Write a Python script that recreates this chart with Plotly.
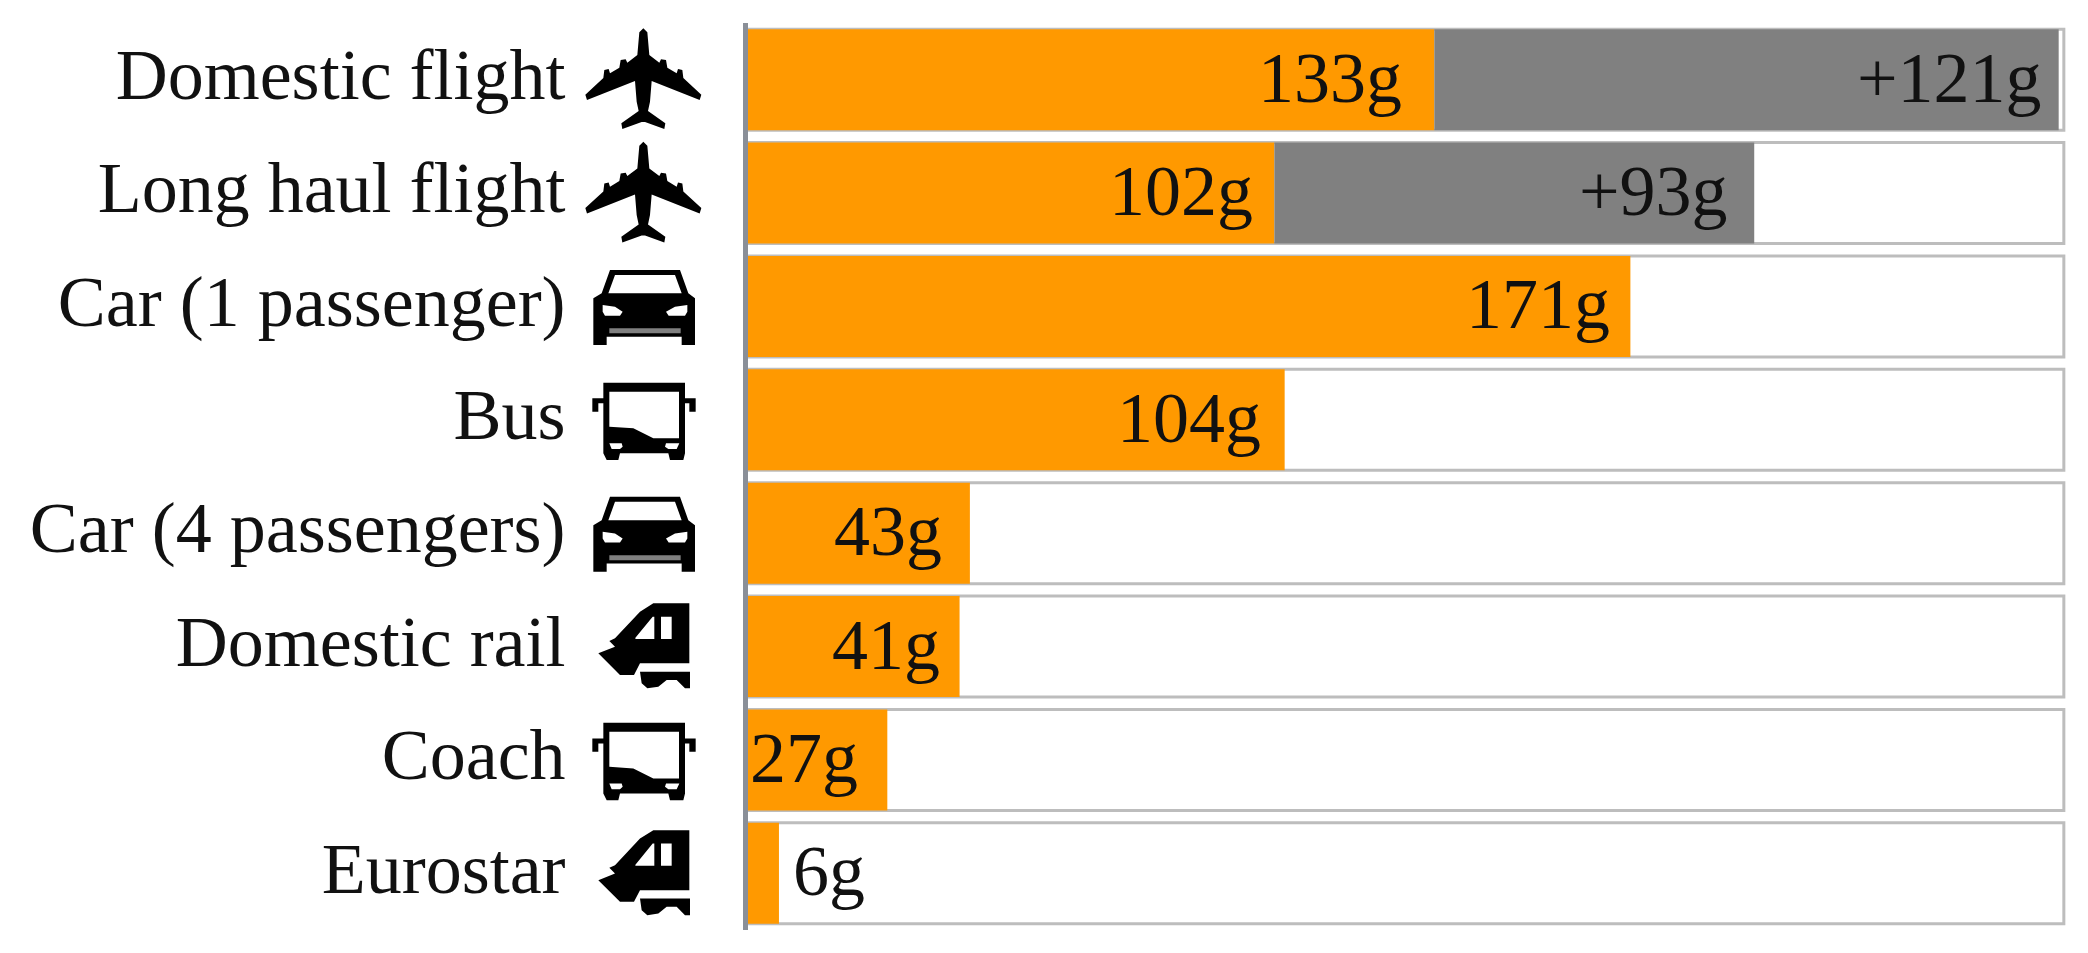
import plotly.graph_objects as go

categories = ["Domestic flight", "Long haul flight", "Car (1 passenger)", "Bus",
              "Car (4 passengers)", "Domestic rail", "Coach", "Eurostar"]
direct_g = [133, 102, 171, 104, 43, 41, 27, 6]
extra_g = [121, 93, 0, 0, 0, 0, 0, 0]
track_total = [255] * 8
direct_labels = ["133g", "102g", "171g", "104g", "43g", "41g", "27g", "6g"]
extra_labels = ["+121g", "+93g", "", "", "", "", "", ""]
icon_kinds = ["plane", "plane", "car", "bus", "car", "train", "bus", "train"]

W, H = 2088, 953
L, R, T, B = 748, 19, 23, 23
PW, PH = W - L - R, H - T - B
PITCH = PH / 8

ORANGE = "#FF9900"
GREY = "#808080"
TRACK = "#BDBDBD"
AXIS = "#8A8F98"
FONT = "Liberation Serif"
LABEL_SIZE = 72

fig = go.Figure()
fig.add_bar(y=categories, x=track_total, orientation="h",
            marker=dict(color="white", line=dict(color=TRACK, width=3)), hoverinfo="skip")
fig.add_bar(y=categories, x=direct_g, orientation="h",
            marker=dict(color=ORANGE, line=dict(width=0)))
fig.add_bar(y=categories, x=extra_g, base=direct_g, orientation="h",
            marker=dict(color=GREY, line=dict(width=0)))

annotations = []
direct_pad = [-30, -19, -18, -22, -26, -18, -27, 12]
for cat, val, txt, pad in zip(categories, direct_g, direct_labels, direct_pad):
    annotations.append(dict(x=val, y=cat, text=txt, showarrow=False, xref="x", yref="y",
                            xanchor="right" if pad < 0 else "left", xshift=pad, yshift=2,
                            font=dict(family=FONT, size=LABEL_SIZE, color="#111111")))
extra_pad = [-15, -24]
for cat, val, ext, txt, pad in zip(categories, direct_g, extra_g, extra_labels, extra_pad):
    annotations.append(dict(x=val + ext, y=cat, text=txt, showarrow=False, xref="x", yref="y",
                            xanchor="right", xshift=pad, yshift=2,
                            font=dict(family=FONT, size=LABEL_SIZE, color="#111111")))


def poly(pts, sx=1 / 3, ox=0, oy=0):
    return "M" + " L".join(f"{(ox + x * sx - L) / PW:.5f},{1 - (oy + y * sx - T) / PH:.5f}" for x, y in pts) + " Z "


plane_right = [(250, 85), (262, 97), (268, 165), (298, 188), (303, 178), (318, 180), (322, 203),
               (350, 220), (354, 207), (367, 210), (370, 234), (424, 284), (419, 300), (275, 243),
               (270, 305), (264, 333), (316, 370), (313, 387), (255, 366)]
plane_left = [(500 - x, y) for x, y in reversed(plane_right[1:])]
plane = [plane_right + plane_left]

car = [[(150, 60), (360, 60), (385, 130), (405, 145), (405, 285), (365, 285), (365, 260), (140, 260),
        (140, 285), (100, 285), (100, 145), (125, 130)],
       [(165, 75), (345, 75), (365, 130), (145, 130)],
       [(128, 165), (165, 170), (188, 185), (180, 197), (135, 197), (128, 185)],
       [(382, 165), (345, 170), (318, 185), (326, 197), (375, 197), (382, 185)]]
car_grille = [[(148, 235), (362, 235), (362, 250), (148, 250)]]

bus = [[(130, 398), (375, 398), (375, 610), (370, 630), (330, 630), (325, 610), (180, 610), (175, 630),
        (140, 630), (130, 610), (130, 460), (115, 460), (115, 485), (97, 485), (97, 445), (130, 445)],
       [(375, 445), (407, 445), (407, 485), (388, 485), (388, 460), (375, 460)],
       [(148, 425), (357, 425), (357, 565), (280, 565), (220, 535), (148, 530)],
       [(148, 580), (185, 580), (188, 590), (180, 597), (155, 597)],
       [(318, 580), (358, 580), (350, 597), (325, 597), (315, 590)]]

train = [[(280, 100), (388, 100), (388, 280), (240, 280), (222, 315), (180, 315), (115, 250), (165, 230),
          (148, 213), (165, 205), (240, 125)],
         [(225, 205), (278, 140), (283, 140), (283, 207), (228, 207)],
         [(303, 140), (335, 140), (335, 207), (303, 207)],
         [(240, 305), (390, 305), (390, 355), (375, 355), (350, 330), (320, 330), (295, 350), (262, 355),
          (245, 340)]]

# origin of each icon drawing (zoomed drawing units -> page pixels) for row 0
origins = {"plane": (560, 0, 0), "car": (560, 250, 2), "bus": (560, 250, 3), "train": (560, 570, 5)}
parts = {"plane": plane, "car": car, "bus": bus, "train": train}

shapes = []
for row, kind in enumerate(icon_kinds):
    ox, oy, base_row = origins[kind]
    oy2 = oy + (row - base_row) * 113.4
    d = "".join(poly(p, ox=ox, oy=oy2) for p in parts[kind])
    shapes.append(dict(type="path", xref="paper", yref="paper", path=d, fillcolor="black",
                       fillrule="evenodd", line=dict(width=0), layer="above"))
    if kind == "car":
        d = "".join(poly(p, ox=ox, oy=oy2) for p in car_grille)
        shapes.append(dict(type="path", xref="paper", yref="paper", path=d, fillcolor="#808080",
                           line=dict(width=0), layer="above"))

fig.update_layout(
    width=W, height=H, autosize=False,
    margin=dict(l=L, r=R, t=T, b=B, pad=0),
    paper_bgcolor="white", plot_bgcolor="white",
    barmode="overlay", bargap=0.11, showlegend=False,
    annotations=annotations, shapes=shapes,
    xaxis=dict(range=[0, 256], visible=False, fixedrange=True),
    yaxis=dict(categoryorder="array", categoryarray=categories, autorange="reversed",
               showline=True, linecolor=AXIS, linewidth=5, ticks="", showgrid=False, zeroline=False,
               ticklabelstandoff=163, ticklabelshift=6, fixedrange=True,
               tickfont=dict(family=FONT, size=LABEL_SIZE, color="#111111")),
)

fig.write_html("out.html", config=dict(displayModeBar=False),
               post_script="document.body.style.margin='0';document.body.style.overflow='hidden';")
